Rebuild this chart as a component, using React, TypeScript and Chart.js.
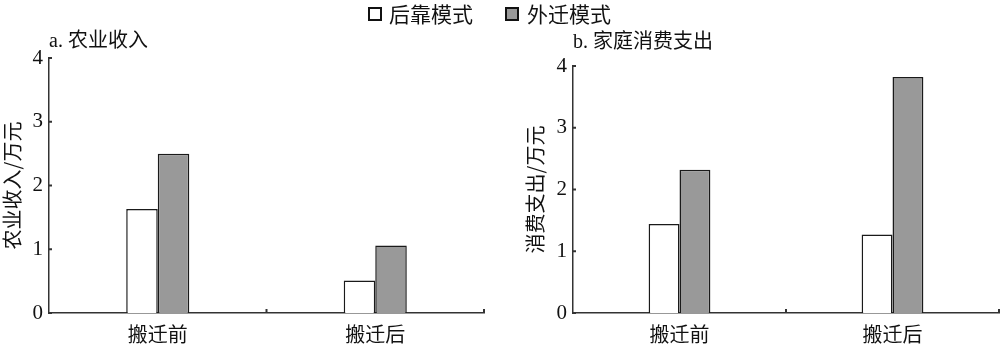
import React, { useEffect, useRef } from 'react';
import { Chart, registerables } from 'chart.js';

Chart.register(...registerables);

const categories = ['搬迁前', '搬迁后'];
const seriesNames = ['后靠模式', '外迁模式'];
const incomeHoukao = [1.63, 0.51];
const incomeWaiqian = [2.5, 1.06];
const spendHoukao = [1.44, 1.27];
const spendWaiqian = [2.32, 3.82];
const yMin = 0;
const yMax = 4;
const yStep = 1;
const titleA = 'a. 农业收入';
const titleB = 'b. 家庭消费支出';
const yLabelA = '农业收入/万元';
const yLabelB = '消费支出/万元';

const FONT = "'Liberation Serif', 'Noto Sans CJK SC', serif";
const CJK = "'Noto Sans CJK SC', 'Liberation Serif', sans-serif";
const AXIS = '#333333';
const GREY = '#999999';

const inwardTicks = {
  id: 'inwardTicks',
  afterDraw(chart: any) {
    const { ctx, chartArea } = chart;
    const xs = chart.scales.x;
    const ys = chart.scales.y;
    ctx.save();
    ctx.strokeStyle = AXIS;
    ctx.lineWidth = 2;
    ys.ticks.forEach((t: any) => {
      const py = ys.getPixelForValue(t.value);
      ctx.beginPath();
      ctx.moveTo(chartArea.left, py);
      ctx.lineTo(chartArea.left + 3, py);
      ctx.stroke();
    });
    const n = xs.ticks.length;
    const step = n > 1 ? xs.getPixelForValue(1) - xs.getPixelForValue(0) : chartArea.right - chartArea.left;
    for (let i = 0; i < n; i++) {
      const px = xs.getPixelForValue(i) + step / 2;
      ctx.beginPath();
      ctx.moveTo(px, chartArea.bottom);
      ctx.lineTo(px, chartArea.bottom - 4);
      ctx.stroke();
    }
    ctx.restore();
  },
};

function makeConfig(p: {
  title: string;
  yLabel: string;
  a: number[];
  b: number[];
  yWidth: number;
  titlePad: { top: number; bottom: number };
  yTitlePad: number;
  padRight: number;
}): any {
  return {
    type: 'bar',
    data: {
      labels: categories,
      datasets: [
        {
          label: seriesNames[0],
          data: p.a,
          backgroundColor: '#ffffff',
          borderColor: '#1a1a1a',
          borderWidth: 1.5,
          categoryPercentage: 0.29,
          barPercentage: 1,
        },
        {
          label: seriesNames[1],
          data: p.b,
          backgroundColor: GREY,
          borderColor: '#1a1a1a',
          borderWidth: 1.5,
          categoryPercentage: 0.29,
          barPercentage: 1,
        },
      ],
    },
    options: {
      responsive: false,
      animation: false,
      layout: { padding: { top: 0, left: 0, right: p.padRight, bottom: 0 } },
      plugins: {
        legend: { display: false },
        tooltip: { enabled: false },
        title: {
          display: true,
          text: p.title,
          align: 'start',
          fullSize: false,
          color: '#111',
          font: { family: FONT, size: 20, weight: 'normal' },
          padding: p.titlePad,
        },
      },
      scales: {
        x: {
          grid: { display: false, drawTicks: false },
          border: { display: true, color: AXIS, width: 1.5 },
          ticks: {
            color: '#111',
            font: { family: CJK, size: 20 },
            padding: 9,
          },
          afterFit: (s: any) => {
            s.height = 35;
          },
        },
        y: {
          min: yMin,
          max: yMax,
          grid: { display: false, drawTicks: false },
          border: { display: true, color: AXIS, width: 1.5 },
          ticks: {
            stepSize: yStep,
            color: '#111',
            font: { family: FONT, size: 21 },
            padding: 6,
          },
          title: {
            display: true,
            text: p.yLabel,
            color: '#111',
            font: { family: CJK, size: 20 },
            padding: { top: p.yTitlePad, bottom: 0 },
          },
          afterFit: (s: any) => {
            s.width = p.yWidth;
          },
        },
      },
    },
    plugins: [inwardTicks],
  };
}

export default function App() {
  const leftRef = useRef<HTMLCanvasElement>(null);
  const rightRef = useRef<HTMLCanvasElement>(null);

  useEffect(() => {
    const c1 = new Chart(
      leftRef.current as HTMLCanvasElement,
      makeConfig({
        title: titleA,
        yLabel: yLabelA,
        a: incomeHoukao,
        b: incomeWaiqian,
        yWidth: 49,
        titlePad: { top: 30, bottom: 4 },
        yTitlePad: 0,
        padRight: 16,
      })
    );
    const c2 = new Chart(
      rightRef.current as HTMLCanvasElement,
      makeConfig({
        title: titleB,
        yLabel: yLabelB,
        a: spendHoukao,
        b: spendWaiqian,
        yWidth: 73,
        titlePad: { top: 31, bottom: 11 },
        yTitlePad: 23,
        padRight: 1,
      })
    );
    return () => {
      c1.destroy();
      c2.destroy();
    };
  }, []);

  const legendText: React.CSSProperties = {
    position: 'absolute',
    top: 0,
    height: 26,
    lineHeight: '26px',
    fontFamily: CJK,
    fontSize: 21,
    color: '#111',
    whiteSpace: 'nowrap',
  };
  const box: React.CSSProperties = {
    position: 'absolute',
    top: 7,
    width: 14,
    height: 14,
    boxSizing: 'border-box',
    border: '2px solid #111',
  };

  return (
    <div style={{ position: 'absolute', left: 0, top: 0, width: 1000, height: 348, background: '#fff', overflow: 'hidden' }}>
      <canvas ref={leftRef} width={500} height={348} style={{ position: 'absolute', left: 0, top: 0 }} />
      <canvas ref={rightRef} width={500} height={348} style={{ position: 'absolute', left: 500, top: 0 }} />
      <div style={{ ...box, left: 368, background: '#fff' }} />
      <div style={{ ...legendText, left: 389 }}>{seriesNames[0]}</div>
      <div style={{ ...box, left: 505, background: GREY }} />
      <div style={{ ...legendText, left: 527 }}>{seriesNames[1]}</div>
    </div>
  );
}
